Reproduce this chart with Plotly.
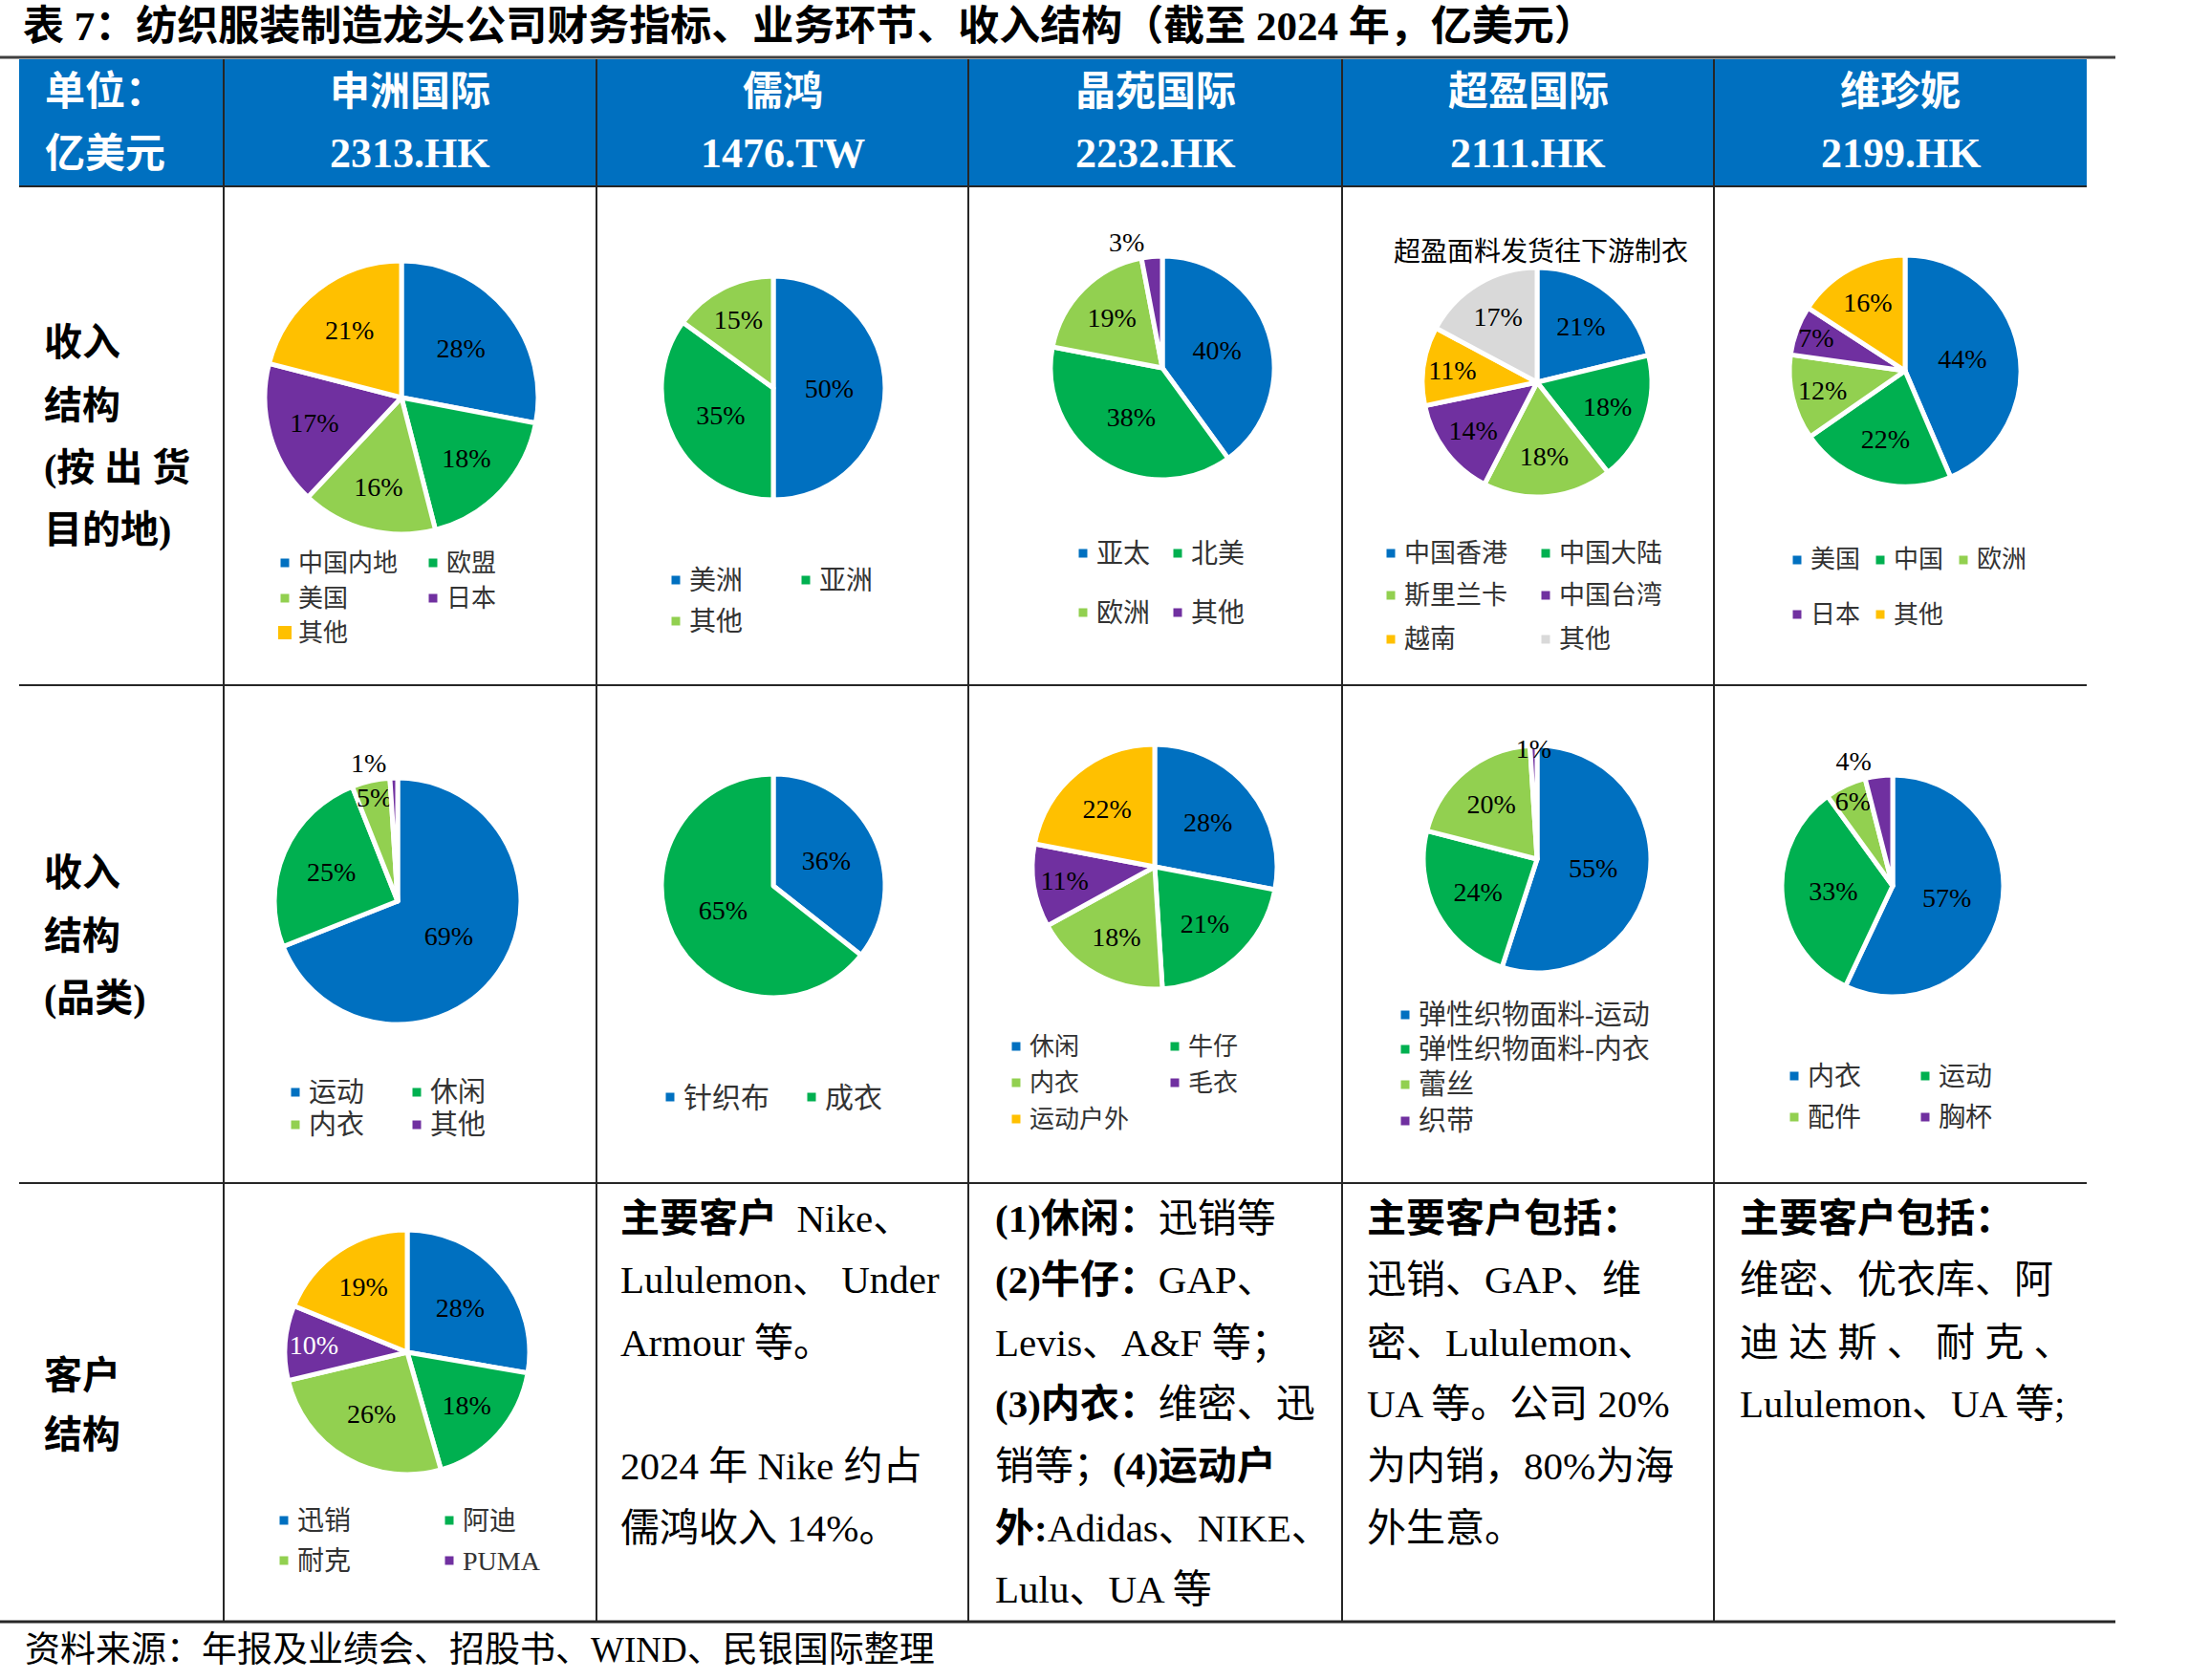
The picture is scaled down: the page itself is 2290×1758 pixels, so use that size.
import plotly.graph_objects as go

W, H = 2290, 1758

# ---------------- text content ----------------
title_text = "表 7：纺织服装制造龙头公司财务指标、业务环节、收入结构（截至 2024 年，亿美元）"
source_text = "资料来源：年报及业绩会、招股书、WIND、民银国际整理"
unit_lines = ["单位：", "亿美元"]
companies = ["申洲国际", "儒鸿", "晶苑国际", "超盈国际", "维珍妮"]
tickers = ["2313.HK", "1476.TW", "2232.HK", "2111.HK", "2199.HK"]
row_labels = [["收入", "结构", "(按 出 货", "目的地)"],
              ["收入", "结构", "(品类)"],
              ["客户", "结构"]]
cy_dest_title = "超盈面料发货往下游制衣"

# ---------------- data ----------------
sz_dest_labels = ["中国内地", "欧盟", "美国", "日本", "其他"]
sz_dest_values = [28, 18, 16, 17, 21]
rh_dest_labels = ["美洲", "亚洲", "其他"]
rh_dest_values = [50, 35, 15]
jy_dest_labels = ["亚太", "北美", "欧洲", "其他"]
jy_dest_values = [40, 38, 19, 3]
cy_dest_labels = ["中国香港", "中国大陆", "斯里兰卡", "中国台湾", "越南", "其他"]
cy_dest_values = [21, 18, 18, 14, 11, 17]
wzn_dest_labels = ["美国", "中国", "欧洲", "日本", "其他"]
wzn_dest_values = [44, 22, 12, 7, 16]

sz_cat_labels = ["运动", "休闲", "内衣", "其他"]
sz_cat_values = [69, 25, 5, 1]
rh_cat_labels = ["针织布", "成衣"]
rh_cat_values = [36, 65]
jy_cat_labels = ["休闲", "牛仔", "内衣", "毛衣", "运动户外"]
jy_cat_values = [28, 21, 18, 11, 22]
cy_cat_labels = ["弹性织物面料-运动", "弹性织物面料-内衣", "蕾丝", "织带"]
cy_cat_values = [55, 24, 20, 1]
wzn_cat_labels = ["内衣", "运动", "配件", "胸杯"]
wzn_cat_values = [57, 33, 6, 4]

sz_cust_labels = ["迅销", "阿迪", "耐克", "PUMA", "其他"]
sz_cust_values = [28, 18, 26, 10, 19]
sz_cust_legend = ["迅销", "阿迪", "耐克", "PUMA"]

rh_cust_text = ["<b>主要客户</b>  Nike、", "Lululemon、 Under", "Armour 等。", "",
                "2024 年 Nike 约占", "儒鸿收入 14%。"]
jy_cust_text = ["<b>(1)休闲：</b>迅销等", "<b>(2)牛仔：</b>GAP、", "Levis、A&amp;F 等；",
                "<b>(3)内衣：</b>维密、迅", "销等；<b>(4)运动户</b>",
                "<b>外:</b>Adidas、NIKE、", "Lulu、UA 等"]
cy_cust_text = ["<b>主要客户包括：</b>", "迅销、GAP、维", "密、Lululemon、",
                "UA 等。公司 20%", "为内销，80%为海", "外生意。"]
wzn_cust_text = ["<b>主要客户包括：</b>", "维密、优衣库、阿", "迪 达 斯 、 耐 克 、",
                 "Lululemon、UA 等;"]

# ---------------- styles ----------------
palette = ["#0070C0", "#00B050", "#92D050", "#7030A0", "#FFC000", "#D9D9D9"]
HEADER_BLUE = "#0070C0"
LINE = "#262626"
SERIF = "Liberation Serif, Noto Sans CJK SC, serif"


def X(px):
    return px / W


def Y(py):
    return 1 - py / H


# layout of each pie: centre / radius (px) and legend grid
pies = [
    dict(labels=sz_dest_labels, values=sz_dest_values, cx=420, cy=416, r=143,
         leg_x=[298, 453], leg_y=[589, 626, 662], leg_size=26, big=[4]),
    dict(labels=rh_dest_labels, values=rh_dest_values, cx=809, cy=406, r=117,
         leg_x=[707, 843], leg_y=[607, 650], leg_size=28),
    dict(labels=jy_dest_labels, values=jy_dest_values, cx=1216, cy=385, r=117,
         leg_x=[1133, 1232], leg_y=[579, 641], leg_size=28, outside=[3]),
    dict(labels=cy_dest_labels, values=cy_dest_values, cx=1608, cy=400, r=120,
         leg_x=[1455, 1617], leg_y=[579, 623, 669], leg_size=27),
    dict(labels=wzn_dest_labels, values=wzn_dest_values, cx=1993, cy=388, r=121,
         leg_x=[1880, 1967, 2054], leg_y=[586, 643], leg_size=26),
    dict(labels=sz_cat_labels, values=sz_cat_values, cx=416, cy=943, r=129,
         leg_x=[309, 436], leg_y=[1143, 1177], leg_size=29, outside=[3]),
    dict(labels=rh_cat_labels, values=rh_cat_values, cx=809, cy=927, r=117,
         leg_x=[701, 849], leg_y=[1148], leg_size=30),
    dict(labels=jy_cat_labels, values=jy_cat_values, cx=1208, cy=907, r=128,
         leg_x=[1063, 1229], leg_y=[1095, 1133, 1171], leg_size=26),
    dict(labels=cy_cat_labels, values=cy_cat_values, cx=1608, cy=899, r=119,
         leg_x=[1470], leg_y=[1062, 1098, 1135, 1173], leg_size=29),
    dict(labels=wzn_cat_labels, values=wzn_cat_values, cx=1980, cy=927, r=116,
         leg_x=[1877, 2014], leg_y=[1126, 1169], leg_size=28, outside=[3]),
    dict(labels=sz_cust_labels, values=sz_cust_values, cx=426, cy=1415, r=128,
         leg_x=[297, 470], leg_y=[1591, 1633], leg_size=28,
         legend=sz_cust_legend, white=[3]),
]

col_edges = [20, 234, 624, 1013, 1404, 1793, 2183]
header_top, header_bot = 62, 195
row_bottoms = [717, 1238, 1697]

fig = go.Figure()
shapes = []
annotations = []

# ---------------- table frame ----------------
shapes.append(dict(type="rect", xref="paper", yref="paper", layer="below",
                   x0=X(col_edges[0]), x1=X(col_edges[-1]), y0=Y(header_bot), y1=Y(header_top),
                   fillcolor=HEADER_BLUE, line_width=0))
shapes.append(dict(type="line", xref="paper", yref="paper", x0=0, x1=X(2213),
                   y0=Y(60), y1=Y(60), line=dict(color="#404040", width=3)))
shapes.append(dict(type="line", xref="paper", yref="paper", x0=0, x1=X(2213),
                   y0=Y(row_bottoms[-1]), y1=Y(row_bottoms[-1]), line=dict(color=LINE, width=3)))
for yb in [header_bot] + row_bottoms[:-1]:
    shapes.append(dict(type="line", xref="paper", yref="paper", x0=X(col_edges[0]), x1=X(col_edges[-1]),
                       y0=Y(yb), y1=Y(yb), line=dict(color=LINE, width=2)))
for xe in col_edges[1:-1]:
    shapes.append(dict(type="line", xref="paper", yref="paper", x0=X(xe), x1=X(xe),
                       y0=Y(header_top), y1=Y(row_bottoms[-1]), line=dict(color=LINE, width=2)))

# ---------------- texts ----------------
annotations.append(dict(text=title_text, x=X(22), y=Y(27), xanchor="left", yanchor="middle",
                        showarrow=False, font=dict(family=SERIF, size=43, color="black", weight="bold")))
annotations.append(dict(text=source_text, x=X(24), y=Y(1726), xanchor="left", yanchor="middle",
                        showarrow=False, font=dict(family=SERIF, size=37, color="black")))
for i, t in enumerate(unit_lines):
    annotations.append(dict(text=t, x=X(45), y=Y([96, 161][i]), xanchor="left", yanchor="middle",
                            showarrow=False, font=dict(family=SERIF, size=42, color="white", weight="bold")))
for i, (c, t) in enumerate(zip(companies, tickers)):
    xc = (col_edges[i + 1] + col_edges[i + 2]) / 2
    annotations.append(dict(text=c, x=X(xc), y=Y(96), xanchor="center", yanchor="middle",
                            showarrow=False, font=dict(family=SERIF, size=42, color="white", weight="bold")))
    annotations.append(dict(text=t, x=X(xc), y=Y(161), xanchor="center", yanchor="middle",
                            showarrow=False, font=dict(family=SERIF, size=44, color="white", weight="bold")))

row_label_y = [[358, 424, 489, 555], [913, 979, 1044], [1439, 1501]]
for lines, ys in zip(row_labels, row_label_y):
    for t, yy in zip(lines, ys):
        annotations.append(dict(text=t, x=X(44), y=Y(yy), xanchor="left", yanchor="middle",
                                showarrow=False, font=dict(family=SERIF, size=40, color="black", weight="bold")))

annotations.append(dict(text=cy_dest_title, x=X(1456), y=Y(263), xanchor="left", yanchor="middle",
                        showarrow=False, font=dict(family=SERIF, size=28, color="black")))

text_line_y = [1275, 1339, 1405, 1469, 1534, 1599, 1663]
for x0, lines in zip([647, 1039, 1428, 1818], [rh_cust_text, jy_cust_text, cy_cust_text, wzn_cust_text]):
    for t, yy in zip(lines, text_line_y):
        if t:
            annotations.append(dict(text=t, x=X(x0), y=Y(yy), xanchor="left", yanchor="middle",
                                    showarrow=False, font=dict(family=SERIF, size=41, color="black")))

# ---------------- pies + legends ----------------
for spec in pies:
    n = len(spec["values"])
    cx, cy, r = spec["cx"], spec["cy"], spec["r"]
    tpos = ["outside" if i in spec.get("outside", []) else "inside" for i in range(n)]
    tcol = ["white" if i in spec.get("white", []) else "black" for i in range(n)]
    fig.add_trace(go.Pie(
        labels=spec["labels"], values=spec["values"],
        domain=dict(x=[X(cx - r), X(cx + r)], y=[Y(cy + r), Y(cy - r)]),
        sort=False, direction="clockwise", rotation=0,
        marker=dict(colors=palette[:n], line=dict(color="white", width=5)),
        texttemplate="%{value}%", textposition=tpos,
        insidetextorientation="horizontal",
        textfont=dict(family=SERIF, size=28, color=tcol),
        outsidetextfont=dict(family=SERIF, size=28, color="black"),
        showlegend=False, hoverinfo="label+value",
    ))
    leg = spec.get("legend", spec["labels"])
    ncols = len(spec["leg_x"])
    for i, lab in enumerate(leg):
        row, col = divmod(i, ncols)
        mx, my = spec["leg_x"][col], spec["leg_y"][row]
        s = 14 if i in spec.get("big", []) else 9
        shapes.append(dict(type="rect", xref="paper", yref="paper",
                           x0=X(mx - s / 2), x1=X(mx + s / 2), y0=Y(my + s / 2), y1=Y(my - s / 2),
                           fillcolor=palette[i], line_width=0))
        annotations.append(dict(text=lab, x=X(mx + 12), y=Y(my), xanchor="left", yanchor="middle",
                                showarrow=False,
                                font=dict(family=SERIF, size=spec["leg_size"], color="#333333")))

fig.update_layout(
    width=W, height=H, autosize=False,
    margin=dict(l=0, r=0, t=0, b=0, pad=0),
    paper_bgcolor="white", plot_bgcolor="white",
    shapes=shapes, annotations=annotations,
    uniformtext=dict(mode="show", minsize=28),
)

fig.write_html("out.html")
